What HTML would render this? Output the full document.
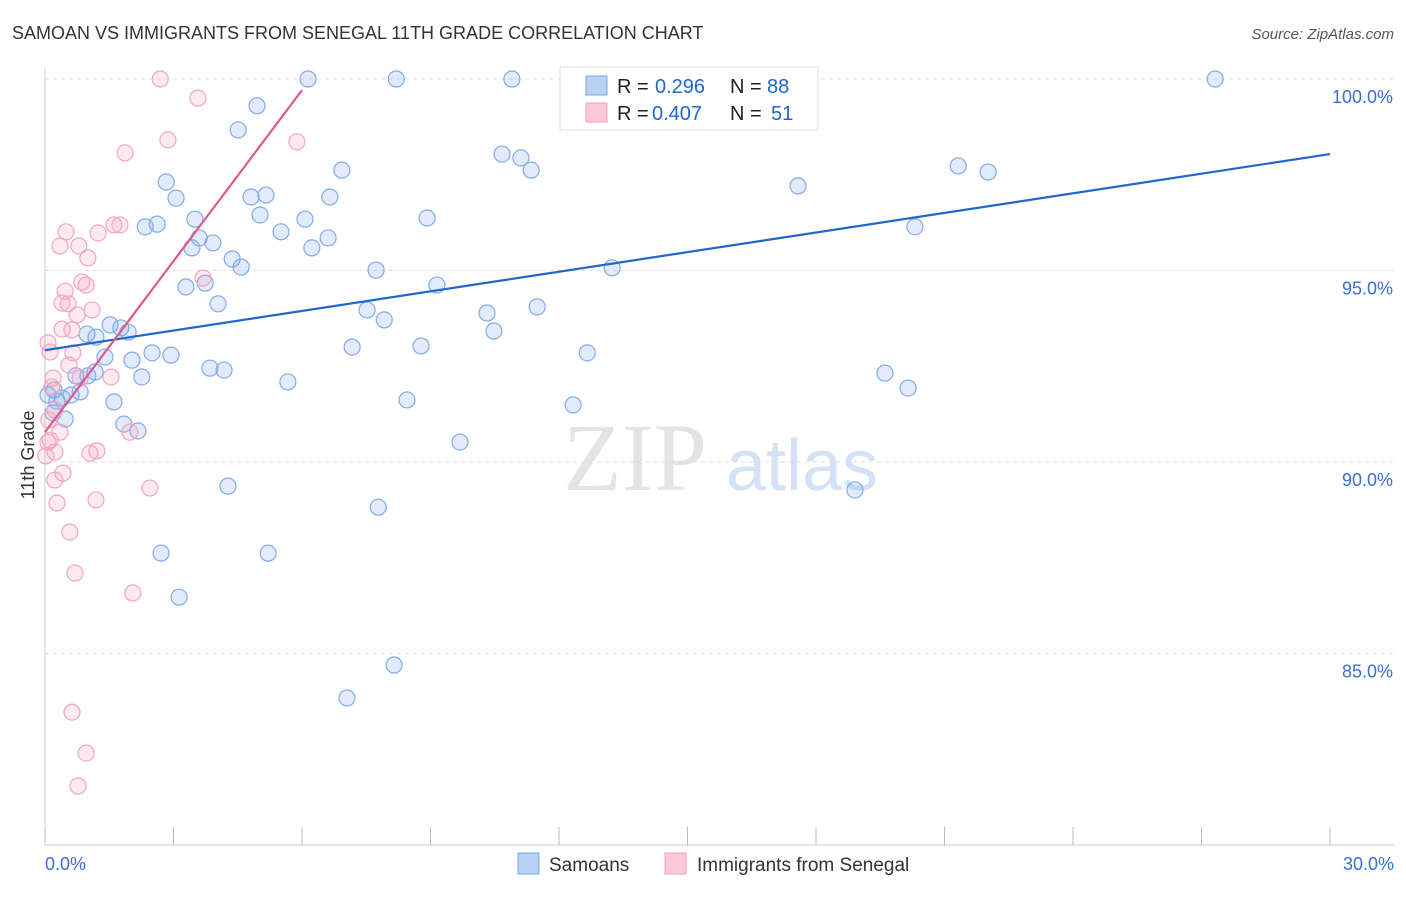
<!DOCTYPE html>
<html><head><meta charset="utf-8"><style>
body{margin:0;background:#fff;font-family:"Liberation Sans",sans-serif}
svg text{font-family:"Liberation Sans",sans-serif}
</style></head><body>
<svg id="chart" width="1406" height="892" viewBox="0 0 1406 892" xmlns="http://www.w3.org/2000/svg">
<text x="12" y="39" font-size="18" fill="#333">SAMOAN VS IMMIGRANTS FROM SENEGAL 11TH GRADE CORRELATION CHART</text>
<text x="1394" y="39" font-size="15" fill="#555" text-anchor="end" font-style="italic">Source: ZipAtlas.com</text>
<g>
<text x="635" y="490" font-size="96" fill="#e4e4e4" font-family="Liberation Serif" text-anchor="middle" style="font-family:'Liberation Serif',serif">ZIP</text>
<text x="802" y="490" font-size="72" fill="#d4e2f6" text-anchor="middle">atlas</text>
</g>
<g id="grid"></g><g id="axes"></g><g id="marks"></g><g id="trends"></g>
<text transform="translate(34,455) rotate(-90)" font-size="18" fill="#333" text-anchor="middle">11th Grade</text>
<g>
<rect x="560" y="67" width="258" height="63" fill="#fff" stroke="#ddd"/>
<rect x="586" y="76" width="21" height="19" fill="#b9d2f4" stroke="#7aa6e6"/>
<rect x="586" y="103" width="21" height="19" fill="#fcc8d6" stroke="#f0a0b8"/>
<text x="617" y="93" font-size="20" fill="#222">R = </text><text x="655" y="93" font-size="20" fill="#2266cc">0.296</text>
<text x="730" y="93" font-size="20" fill="#222">N = </text><text x="767" y="93" font-size="20" fill="#2266cc">88</text>
<text x="617" y="120" font-size="20" fill="#222">R = </text><text x="652" y="120" font-size="20" fill="#2266cc">0.407</text>
<text x="730" y="120" font-size="20" fill="#222">N = </text><text x="771" y="120" font-size="20" fill="#2266cc">51</text>
</g>
<g>
<rect x="518" y="853" width="21" height="21" fill="#b9d2f4" stroke="#7aa6e6"/>
<text x="549" y="871" font-size="19" fill="#333">Samoans</text>
<rect x="665" y="853" width="21" height="21" fill="#fcc8d6" stroke="#f0a0b8"/>
<text x="697" y="871" font-size="19" fill="#333">Immigrants from Senegal</text>
</g>
</svg>
<script>
const yTicks=[100,95,90,85];
const yTickLabels=["100.0%","95.0%","90.0%","85.0%"];
const xTickVals=[0,3,6,9,12,15,18,21,24,27,30];
const xEndLabels=["0.0%","30.0%"];
const samoaX=[6.14,8.20,10.90,14.01,27.32,4.95,4.51,10.67,11.11,11.35,6.93,21.32,22.02,17.58,2.83,3.06,4.81,5.16,6.65,5.02,3.50,6.07,8.92,2.34,2.62,5.51,20.31,6.61,6.23,3.60,3.92,3.43,4.37,4.58,7.73,13.24,3.74,3.29,9.15,4.04,7.52,7.92,10.32,11.49,10.48,1.52,1.77,1.94,0.98,1.19,7.17,8.78,2.50,2.94,1.40,2.03,12.66,3.85,4.18,1.17,1.00,0.72,2.26,5.67,19.61,20.15,0.21,0.82,0.61,0.40,0.28,1.61,8.45,12.33,0.47,1.84,2.17,9.69,4.27,18.91,7.78,2.71,5.21,3.13,8.15,7.05,0.07,0.19];
const samoaY=[100,100,100,100,100,99.30,98.67,98.04,97.94,97.62,97.62,97.73,97.57,97.21,97.31,96.89,96.92,96.97,96.92,96.45,96.34,96.34,96.37,96.14,96.21,96.01,96.14,95.85,95.59,95.85,95.72,95.59,95.30,95.09,95.01,95.07,94.67,94.57,94.62,94.13,93.97,93.71,93.89,94.05,93.42,93.58,93.50,93.39,93.34,93.26,93.00,93.03,92.85,92.79,92.74,92.66,92.85,92.45,92.40,92.35,92.25,92.25,92.22,92.09,92.32,91.93,91.88,91.83,91.75,91.67,91.59,91.57,91.62,91.49,91.12,90.99,90.81,90.52,89.37,89.27,88.82,87.62,87.62,86.47,84.70,83.84,91.75,91.28];
const senX=[2.69,3.57,2.87,1.87,5.88,1.61,1.75,0.49,1.24,0.79,0.35,1.00,3.69,0.86,0.96,0.47,0.54,0.40,0.75,1.10,0.40,0.63,0.07,0.65,0.12,0.56,0.19,1.54,0.82,0.16,0.23,0.35,1.98,0.07,1.21,1.05,0.23,0.02,0.42,0.23,2.45,1.19,0.28,0.58,0.70,2.05,0.63,0.96,0.77,0.12,0.09];
const senY=[100,99.50,98.41,98.07,98.36,96.19,96.19,96.01,95.98,95.64,95.64,95.33,94.80,94.70,94.62,94.46,94.13,94.15,93.84,93.97,93.47,93.45,93.11,92.85,92.87,92.53,92.19,92.22,92.19,91.96,91.36,90.78,90.78,90.52,90.29,90.23,90.26,90.16,89.71,89.53,89.32,89.01,88.93,88.17,87.10,86.58,83.47,82.40,81.54,90.57,91.10];
const samoaTrend=[[0,92.92],[30,98.04]];
const senTrend=[[0,90.78],[6,99.71]];
const X=v=>45+v*(1285/30), Y=v=>79+(100-v)*38.3;
const NS="http://www.w3.org/2000/svg";
function mk(t,a,p){const e=document.createElementNS(NS,t);for(const k in a)e.setAttribute(k,a[k]);document.getElementById(p).appendChild(e);return e;}
yTicks.forEach((v,i)=>{
 const l=mk('line',{x1:45,x2:1394,y1:Y(v),y2:Y(v),stroke:'#ddd','stroke-dasharray':'4,4'},'grid');
 
 
 const t=mk('text',{x:1393,y:Y(v)+24,'font-size':18,fill:'#3a70d0','text-anchor':'end'},'axes');t.textContent=yTickLabels[i];
 
 
});
const ax=mk('line',{x1:45,x2:45,y1:68,y2:845,stroke:'#ccc'},'axes');


const bx=mk('line',{x1:45,x2:1394,y1:845,y2:845,stroke:'#ccc'},'axes');


xTickVals.forEach(v=>{const t=mk('line',{x1:X(v),x2:X(v),y1:827,y2:845,stroke:'#bbb'},'axes');
 
 });
[[0,'start',45],[30,'end',1394]].forEach((d,i)=>{const t=mk('text',{x:d[2],y:870,'font-size':18,fill:'#3a70d0','text-anchor':d[1]},'axes');t.textContent=xEndLabels[i];
 
 });
samoaX.forEach((v,i)=>{const c=mk('circle',{cx:X(v),cy:Y(samoaY[i]),r:8,fill:'rgba(120,165,235,0.22)',stroke:'#82aae6','stroke-width':1.2},'marks');
 
 });
senX.forEach((v,i)=>{const c=mk('circle',{cx:X(v),cy:Y(senY[i]),r:8,fill:'rgba(245,160,185,0.22)',stroke:'#f2a6bd','stroke-width':1.2},'marks');
 
 });
const t1=mk('line',{x1:X(samoaTrend[0][0]),y1:Y(samoaTrend[0][1]),x2:X(samoaTrend[1][0]),y2:Y(samoaTrend[1][1]),stroke:'#2266cc','stroke-width':2.2},'trends');


const t2=mk('line',{x1:X(senTrend[0][0]),y1:Y(senTrend[0][1]),x2:X(senTrend[1][0]),y2:Y(senTrend[1][1]),stroke:'#e0588a','stroke-width':2.2},'trends');


</script>
</body></html>
